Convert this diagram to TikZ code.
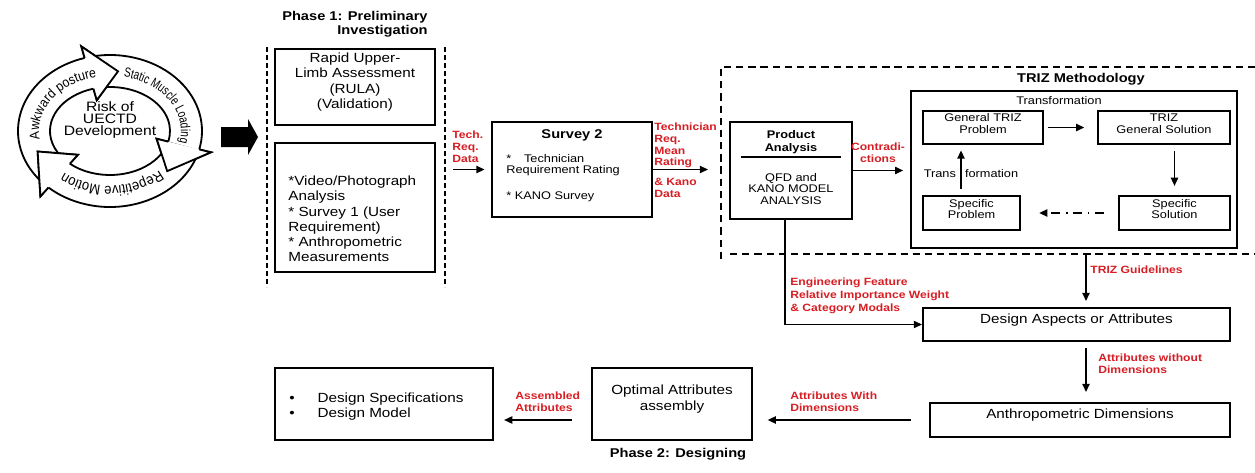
\documentclass[tikz,border=0pt]{standalone}
\usepackage{fontspec}
\setmainfont{Liberation Sans}[FakeStretch=1.15]
\newfontfamily\cyclefont{Liberation Sans}[FakeStretch=0.9]
\newfontfamily\narrowfont{Liberation Sans}[FakeStretch=0.75]
\usetikzlibrary{arrows.meta}
\usetikzlibrary{fit}
\usetikzlibrary{decorations.text}

\definecolor{labelred}{RGB}{214,30,36}

\tikzset{
  box/.style={draw, line width=1.2pt, inner sep=0pt, align=center},
  trizcell/.style={box, line width=1.1pt, font=\fontsize{6.1}{6.4}\selectfont},
  flow/.style={-{Triangle[length=4.5pt,width=4pt]}, line width=0.8pt},
  redlabel/.style={text=labelred, font=\fontsize{5.8}{6.5}\selectfont\bfseries, align=left, inner sep=0pt},
  bodytext/.style={font=\fontsize{7.3}{8.4}\selectfont},
  smalltext/.style={font=\fontsize{6.1}{6.4}\selectfont, inner sep=0pt},
  titletext/.style={font=\fontsize{7}{7.6}\selectfont\bfseries, inner sep=0pt},
  phaseline/.style={dash pattern=on 2.7pt off 1.7pt, line width=0.6pt},
  trizline/.style={dash pattern=on 4pt off 2.7pt, line width=0.6pt},
  ringarrow/.style={draw, fill=white, line width=1pt, line join=miter},
}

\begin{document}
\begin{tikzpicture}[x=0.55pt, y=-0.55pt]
\useasboundingbox (0,0) rectangle (1255,473);

% risk cycle
\begin{scope}[shift={(110,131)}, yscale=-1]
\foreach \tail/\head/\tip in {223/106/84, 101/-14/-42, -15/-132/-160}
  \draw[ringarrow] (\tail:92 and 76) arc[start angle=\tail, end angle=\head, x radius=92, y radius=76]
    -- (\head:104 and 88) -- (\tip:77 and 60) -- (\head:48 and 32) -- (\head:60 and 44)
    arc[start angle=\head, end angle=\tail, x radius=60, y radius=44] -- cycle;
\foreach \head/\tip in {106/84, -14/-42, -132/-160} {
  \fill[white] (\head:92 and 76) -- (\head:104 and 88) -- (\tip:77 and 60) -- (\head:48 and 32) -- (\head:60 and 44) -- cycle;
  \draw[line width=1pt, line join=miter] (\head:92 and 76) -- (\head:104 and 88) -- (\tip:77 and 60) -- (\head:48 and 32) -- (\head:60 and 44);
}
\path[decorate, decoration={text along path, text align=center,
  text={|\cyclefont\fontsize{7.5}{7.5}\selectfont|Awkward posture}}]
  (192:71 and 55) arc[start angle=192, end angle=98, x radius=71, y radius=55];
\path[decorate, decoration={text along path, text align=center,
  text={|\narrowfont\fontsize{7.3}{7.3}\selectfont|Static Muscle Loading}}]
  (82:71 and 55) arc[start angle=82, end angle=-16, x radius=71, y radius=55];
\path[decorate, decoration={text along path, text align=center,
  text={|\cyclefont\fontsize{8}{8}\selectfont|Repetitive Motion}}]
  (-30:71 and 55) arc[start angle=-30, end angle=-146, x radius=71, y radius=55];
\end{scope}
\node[align=center, inner sep=0pt, font=\fontsize{7.5}{6.8}\selectfont] (risk) at (110,120) {Risk of\\UECTD\\Development};

\fill (221,127) -- (248,127) -- (248,119) -- (258,137) -- (248,155) -- (248,147) -- (221,147) -- cycle;

% phase 1
\node[titletext, align=right, anchor=east] (phaseone) at (428,24) {Phase 1: Preliminary\\Investigation};
\draw[phaseline] (267,47) -- (267,287);
\draw[phaseline] (445,47) -- (445,287);
\node[box, line width=1.4pt, bodytext, fit={(275,49) (435,125)}] (rula) {Rapid Upper-\\Limb Assessment\\(RULA)\\(Validation)};
\node[box, line width=1.4pt, fit={(275,143) (435,272)}] (video) {};
\node[bodytext, align=left, anchor=west, inner sep=0pt] (videotext) at (288,219) {*Video/Photograph\\Analysis\\* Survey 1 (User\\Requirement)\\* Anthropometric\\Measurements};

% survey 2
\node[redlabel, anchor=west] (techreq) at (452,147) {Tech.\\Req.\\Data};
\coordinate (phaseoneout) at (453,169.5);
\node[box, fit={(492,122) (652,217)}] (survey) {};
\node[titletext] (surveyhead) at (572,135) {Survey 2};
\node[smalltext, align=left, anchor=west] (surveyreq) at (506,165) {*\hspace{7pt}Technician\\Requirement Rating};
\node[smalltext, anchor=west] (surveykano) at (506,197) {* KANO Survey};
\draw[flow, shorten >=3.5pt] (phaseoneout) -- (survey.west |- phaseoneout);
\node[redlabel, anchor=west] (meanrating) at (654,145.5) {Technician\\Req.\\Mean\\Rating};
\node[redlabel, anchor=west] (kanodata) at (654,188) {\& Kano\\Data};

% TRIZ methodology
\draw[trizline] (1255,67) -- (721,67) -- (721,262);
\draw[trizline] (730,254) -- (1255,254);
\node[titletext] (trizhead) at (1081,79) {TRIZ Methodology};
\node[draw, line width=0.6pt, inner sep=0pt, fit={(911,91) (1237,248)}] (trizbox) {};
\node[smalltext] (transtop) at (1059,101) {Transformation};

\node[box, fit={(730,122) (852,219)}] (product) {};
\node[smalltext, align=center, font=\fontsize{6.1}{7.1}\selectfont\bfseries] (producthead) at (791,142) {Product\\Analysis};
\draw[line width=0.8pt] (741,157) -- (841,157);
\node[smalltext, align=center] (productbody) at (791,189) {QFD and\\KANO MODEL\\ANALYSIS};
\draw[flow, shorten >=11.5pt] (survey.east) -- (survey.east -| product.west);
\node[redlabel, align=center] (contra) at (878,152.5) {Contradi-\\ctions};
\draw[flow, shorten >=4pt] (product.east) -- (product.east -| trizbox.west);

\node[trizcell, fit={(923,111) (1043,144)}] (genprob) {General TRIZ\\Problem};
\node[trizcell, fit={(1098,111) (1230,144)}] (gensol) {TRIZ\\General Solution};
\node[trizcell, fit={(1119,196) (1230,230)}] (specsol) {Specific\\Solution};
\node[trizcell, fit={(923,196) (1020,230)}] (specprob) {Specific\\Problem};
\draw[flow, shorten <=2pt, shorten >=7pt] (genprob) -- (gensol);
\draw[flow, shorten <=3.5pt, shorten >=5pt] (gensol.south -| specsol) -- (specsol.north);
\draw[flow, dash pattern=on 5pt off 3pt on 1pt off 3pt, shorten <=7.7pt, shorten >=10pt] (specsol) -- (specprob);
\coordinate (transfoot) at (961,189);
\draw[flow, shorten >=3pt] (transfoot) -- (transfoot |- genprob.south);
\node[smalltext] (transside) at (971,174) {Trans\kern5pt formation};

% phase 2
\coordinate (trizout) at (1086,254);
\node[box, line width=1.1pt, bodytext, fit={(923,308) (1230,341)}] (aspects) {Design Aspects or Attributes};
\draw[flow, shorten >=3.3pt] (trizout) -- (trizout |- aspects.north);
\node[redlabel, anchor=west] (guide) at (1090,270) {TRIZ Guidelines};
\coordinate (prodfoot) at (785,219);
\draw[flow, line width=0.6pt] (prodfoot) |- (aspects.west);
\node[redlabel, anchor=west, font=\fontsize{5.8}{7.1}\selectfont\bfseries] (engfeature) at (790,296) {Engineering Feature\\Relative Importance Weight\\\& Category Modals};

\node[box, line width=1.1pt, bodytext, fit={(930,403) (1230,437)}] (anthro) {Anthropometric Dimensions};
\draw[flow, shorten <=3.3pt, shorten >=5.5pt] (aspects.south -| trizout) -- (anthro.north -| trizout);
\node[redlabel, anchor=west] (withoutdim) at (1098,363.5) {Attributes without\\Dimensions};

\node[box, bodytext, fit={(592,368) (752,440)}] (optimal) {Optimal Attributes\\assembly};
\draw[flow, shorten <=10pt, shorten >=8pt] (anthro.west) -- (anthro.west -| optimal.east);
\node[redlabel, anchor=west] (withdim) at (790,402) {Attributes With\\Dimensions};

\node[box, fit={(275,368) (493,440)}] (spec) {};
\node[bodytext, align=left, anchor=west, inner sep=0pt] (spectext) at (289,406.5) {\makebox[15.5pt][l]{\textbullet}Design Specifications\\\makebox[15.5pt][l]{\textbullet}Design Model};
\draw[flow, shorten <=10.5pt, shorten >=5.5pt] (optimal.west |- anthro.west) -- (spec.east |- anthro.west);
\node[redlabel, anchor=west] (assembled) at (515,401.5) {Assembled\\Attributes};
\node[titletext] (phasetwo) at (678,454) {Phase 2: Designing};

\end{tikzpicture}
\end{document}
